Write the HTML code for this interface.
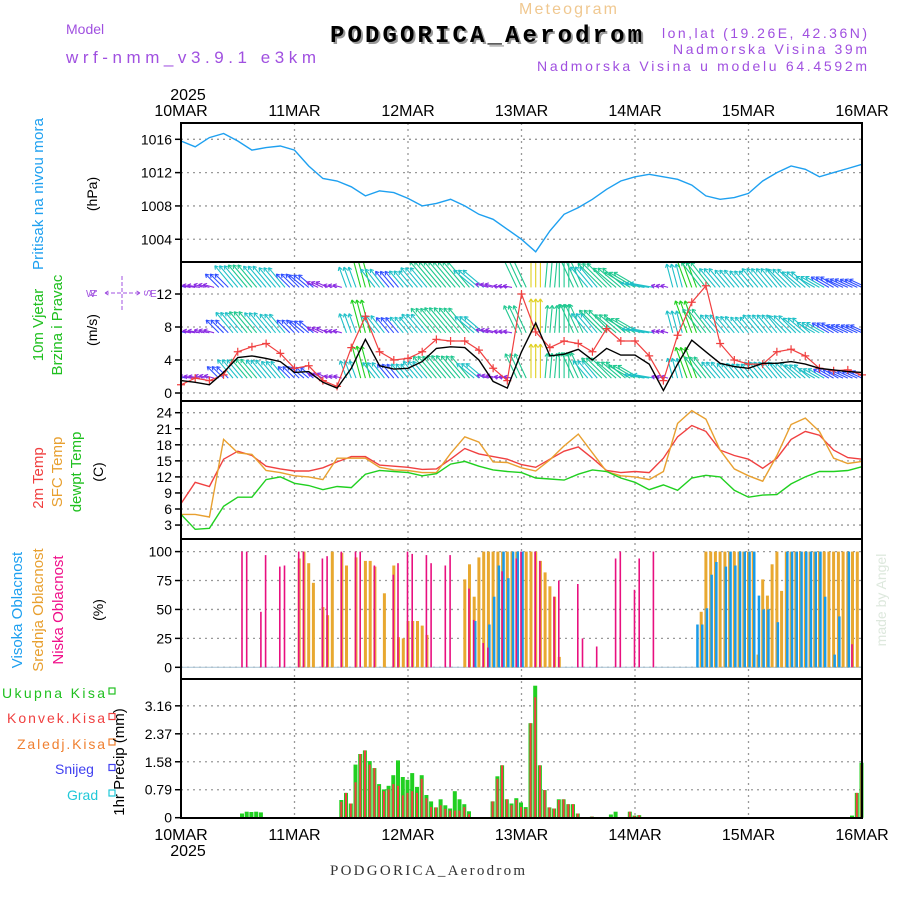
<!DOCTYPE html>
<html><head><meta charset="utf-8">
<style>
html,body{margin:0;padding:0;background:#fff;}
svg{display:block;font-family:"Liberation Sans","DejaVu Sans",sans-serif;}
</style></head>
<body>
<svg id="chart" width="900" height="900" viewBox="0 0 900 900" xmlns="http://www.w3.org/2000/svg">
<rect width="900" height="900" fill="#fff"/>
<g>
<text x="568" y="14" font-size="16" fill="#f0c890" text-anchor="middle" textLength="98">Meteogram</text>
<text x="332" y="44" font-family="Liberation Mono, monospace" font-weight="bold" font-size="24" fill="#999" textLength="312">PODGORICA_Aerodrom</text>
<text x="330" y="42" font-family="Liberation Mono, monospace" font-weight="bold" font-size="24" fill="#000" textLength="312">PODGORICA_Aerodrom</text>
<text x="66" y="34" font-size="14" fill="#a050e0">Model</text>
<text x="66" y="63" font-size="17" fill="#a050e0" textLength="250">wrf-nmm_v3.9.1 e3km</text>
<text x="867" y="38" font-size="14" fill="#a050e0" text-anchor="end" textLength="205">lon,lat (19.26E, 42.36N)</text>
<text x="867" y="54" font-size="14" fill="#a050e0" text-anchor="end" textLength="194">Nadmorska Visina 39m</text>
<text x="867" y="71" font-size="14" fill="#a050e0" text-anchor="end" textLength="330">Nadmorska Visina u modelu 64.4592m</text>
</g>
<g id="grid"></g>
<g id="marks"></g>
<g id="frame"></g>
<g id="labels"></g>
<g>
<text transform="translate(43,194) rotate(-90)" font-size="15" fill="#1ea0f0" text-anchor="middle" textLength="152">Pritisak na nivou mora</text>
<text transform="translate(97,194) rotate(-90)" font-size="14" fill="#000" text-anchor="middle">(hPa)</text>
<text transform="translate(43,325) rotate(-90)" font-size="15" fill="#20c020" text-anchor="middle">10m Vjetar</text>
<text transform="translate(62,325) rotate(-90)" font-size="15" fill="#20c020" text-anchor="middle">Brzina i Pravac</text>
<text transform="translate(97,330) rotate(-90)" font-size="14" fill="#000" text-anchor="middle">(m/s)</text>
<g fill="#a050e0" font-size="10" stroke="none">
<text x="122" y="268" text-anchor="middle" transform="rotate(-90 122 293)">N</text>
<text x="86" y="297">W</text><text x="150" y="297">E</text>
<text x="122" y="322" text-anchor="middle" transform="rotate(-90 122 293)">S</text>
<path d="M105,293 H140 M122,276 V310 M105,293 l5,-3 M105,293 l5,3 M140,293 l-5,-3 M140,293 l-5,3" stroke="#a050e0" stroke-width="1" stroke-dasharray="4,2" fill="none"/>
</g>
<text transform="translate(43,478) rotate(-90)" font-size="15" fill="#f04040" text-anchor="middle">2m Temp</text>
<text transform="translate(62,472) rotate(-90)" font-size="15" fill="#e8a030" text-anchor="middle">SFC Temp</text>
<text transform="translate(81,472) rotate(-90)" font-size="15" fill="#20c020" text-anchor="middle">dewpt Temp</text>
<text transform="translate(103,472) rotate(-90)" font-size="14" fill="#000" text-anchor="middle">(C)</text>
<text transform="translate(22,610) rotate(-90)" font-size="15" fill="#1ea0f0" text-anchor="middle">Visoka Oblacnost</text>
<text transform="translate(43,610) rotate(-90)" font-size="15" fill="#e8a030" text-anchor="middle">Srednja Oblacnost</text>
<text transform="translate(63,610) rotate(-90)" font-size="15" fill="#f0108a" text-anchor="middle">Niska Oblacnost</text>
<text transform="translate(103,610) rotate(-90)" font-size="14" fill="#000" text-anchor="middle">(%)</text>
<text transform="translate(124,762) rotate(-90)" font-size="15" fill="#000" text-anchor="middle">1hr Precip (mm)</text>
<text transform="translate(886,600) rotate(-90)" font-size="14" fill="#dde8dd" text-anchor="middle">made by Angel</text>
<text x="330" y="875" font-family="Liberation Serif, serif" font-size="15" fill="#333" textLength="195">PODGORICA_Aerodrom</text>
</g>
<g font-size="14">
<text x="2" y="698" fill="#20c020" textLength="103">Ukupna Kisa</text>
<text x="7" y="723" fill="#f04040" textLength="98">Konvek.Kisa</text>
<text x="17" y="749" fill="#f08030" textLength="88">Zaledj.Kisa</text>
<text x="55" y="774" fill="#4040f0">Snijeg</text>
<text x="67" y="800" fill="#20c8d8">Grad</text>
</g>
</svg>
<script>
const pressure=[1015.8,1015.1,1016.2,1016.7,1015.8,1014.7,1015.0,1015.2,1014.7,1012.8,1011.3,1011.0,1010.3,1009.2,1009.8,1009.6,1008.9,1008.0,1008.3,1008.8,1008.0,1007.0,1006.4,1005.2,1004.0,1002.5,1005.0,1007.0,1007.8,1008.8,1010.0,1011.0,1011.5,1011.8,1011.5,1011.2,1010.5,1009.2,1008.8,1009.0,1009.5,1011.0,1012.0,1012.8,1012.4,1011.5,1012.0,1012.5,1013.0];
const temp2m=[7,11.0,10.2,15.3,16.8,16.0,14.0,13.5,13.1,13.1,13.7,14.8,15.8,15.8,14.2,14.0,13.8,13.4,13.5,15.3,17.3,16.3,15.8,15.3,14.3,13.8,15.3,16.8,17.6,15.5,13.2,12.8,13.0,12.8,15.5,19.5,21.6,20.5,17.0,16.0,15.3,13.6,15.5,19.0,20.5,19.8,17.0,15.6,15.3];
const tempSfc=[5,5.0,4.5,19.0,16.5,16.2,13.2,12.8,12.2,12.0,11.5,15.5,15.5,15.5,13.8,13.3,13.2,12.8,12.8,16.4,19.5,18.5,14.8,14.7,13.7,13.1,15.2,17.8,20.0,16.5,13.0,12.2,12.0,11.5,13.0,22.0,24.4,22.8,17.0,13.5,12.2,11.2,16.0,21.8,23.0,20.5,15.5,14.5,14.9];
const tempDew=[5,2.2,2.4,6.5,8.2,8.2,11.5,12.0,10.8,10.4,9.6,10.2,10.0,12.5,13.2,13.0,12.8,12.2,12.6,14.4,14.9,14.0,13.3,13.0,12.8,11.8,11.6,11.4,12.5,13.3,13.0,11.8,11.0,9.6,10.5,9.5,11.8,12.3,12.0,9.5,8.2,8.6,8.7,10.7,12.0,13.0,13.0,13.2,13.9];
const windSpeed=[1.5,1.3,1.0,2.5,4.3,4.5,4.2,3.8,2.5,2.6,1.3,0.6,3.0,6.5,3.3,2.9,3.0,3.8,5.4,5.6,5.5,4.0,1.4,0.6,5.0,8.5,4.5,4.7,5.3,4.0,5.4,4.6,4.6,3.5,0.3,3.5,6.4,5.0,3.6,3.2,3.0,3.6,3.6,3.8,3.5,3.0,2.8,2.6,2.5];
const windGust=[1.0,1.8,1.5,2.2,5.0,5.6,6.0,4.8,3.0,3.3,1.5,0.8,5.5,9.3,5.0,4.0,4.2,5.0,6.5,6.3,6.3,5.2,3.0,1.5,12.0,7.4,5.5,6.3,6.0,5.0,7.8,6.3,6.3,4.5,1.5,7.0,11.0,13.0,6.0,4.0,3.5,3.5,5.0,5.3,4.5,3.0,2.7,2.8,2.2];
const windDir=[-75,-80,-75,-45,-40,-40,-40,-40,-45,-50,-65,-75,-20,-15,-38,-40,-40,-40,-40,-40,-40,-50,-75,-80,-25,0,5,0,-25,-40,-45,-50,-60,-80,-75,-15,-20,-38,-40,-40,-40,-40,-40,-45,-50,-60,-60,-65,-65];
const lowHours=[13,14,17,18,21,22,25,26,30,31,34,37,38,41,45,46,48,49,52,53,56,57,61,62,64,65,68,71,72,75,76,79,80,84,85,88,92,93,96,97,100,142];
const lowVals=[100,100,48,97,87,88,100,100,94,96,100,100,100,88,80,90,100,98,97,90,88,97,68,41,21,17,83,94,100,100,92,61,75,72,25,18,94,100,67,94,100,20];
const midHours=[25,26,27,28,30,31,32,34,35,37,39,40,41,43,45,46,47,48,49,50,51,52,60,61,62,63,64,65,66,67,68,69,70,71,73,74,75,76,77,78,79,80,110,111,112,113,114,115,116,117,118,119,120,121,122,123,124,125,126,127,128,129,130,131,132,133,134,135,136,137,138,139,140,141,142,143];
const midVals=[94,100,90,73,52,45,100,99,88,95,92,92,87,64,88,26,25,40,40,40,36,28,76,89,61,95,100,100,100,100,100,100,100,100,100,100,100,92,82,70,61,9,48,100,100,100,100,100,100,100,100,100,100,100,11,76,62,89,100,66,100,100,100,100,100,100,100,100,100,100,100,100,100,100,100,100];
const highHours=[62,65,66,67,68,69,70,71,72,109,110,111,112,113,115,116,117,118,119,120,121,122,123,124,126,128,129,130,131,132,133,134,135,136,138,139,141];
const highVals=[40,37,61,88,100,77,100,100,100,37,37,51,80,91,87,100,88,100,100,100,100,62,50,50,39,100,100,100,100,100,100,100,100,61,11,44,100];
const precipHours=[13,14,15,16,17,34,35,36,37,38,39,40,41,42,43,44,45,46,47,48,49,50,51,52,53,54,55,56,57,58,59,60,61,63,66,67,68,69,70,71,72,73,74,75,76,77,78,79,80,81,82,83,84,87,91,92,95,96,97,142,143,144];
const precipTotal=[0.12,0.17,0.16,0.17,0.15,0.5,0.7,0.4,1.5,1.8,1.9,1.6,1.4,0.95,0.8,0.9,1.2,1.62,1.15,1.07,1.26,0.87,1.2,0.64,0.46,0.29,0.52,0.35,0.26,0.75,0.52,0.38,0.18,0.02,0.46,1.17,1.48,0.52,0.4,0.55,0.43,0.3,2.67,3.73,1.48,0.78,0.29,0.26,0.52,0.52,0.38,0.38,0.12,0.03,0.09,0.17,0.17,0.06,0.07,0.06,0.7,1.55];
const precipConv=[0,0,0,0,0,0.45,0.7,0.4,1.0,1.8,1.9,1.5,1.4,0.9,0.75,0.8,0.95,0.9,0.63,0.7,0.75,0.7,1.1,0.55,0.3,0.29,0.35,0.25,0.2,0.2,0.2,0.3,0.1,0.02,0.46,1.1,1.48,0.52,0.35,0.5,0.3,0.25,2.67,3.4,1.48,0.78,0.29,0.26,0.5,0.52,0.38,0.38,0.12,0.03,0,0,0.17,0.05,0.07,0,0.7,1.5];
const dayLabels=["10MAR","11MAR","12MAR","13MAR","14MAR","15MAR","16MAR"];
const pressureTicks=[1016,1012,1008,1004];
const windTicks=[12,8,4,0];
const tempTicks=[24,21,18,15,12,9,6,3];
const cloudTicks=[100,75,50,25,0];
const precipTicks=[3.16,2.37,1.58,0.79,0];

const NS="http://www.w3.org/2000/svg";
const X0=181,X1=862,HOURS=144,STEP=3;
const X=h=>X0+h*(X1-X0)/HOURS;
const yP=v=>139.3+(1016-v)*8.33;
const yW=v=>393-v*8.25;
const yT=v=>412.7+(24-v)*5.35;
const yC=v=>667.3-v*1.157;
const yR=v=>817.7-v*35.4;
const panels=[{t:123,b:262},{t:262,b:401},{t:401,b:539},{t:539,b:679},{t:679,b:818}];
function mk(tag,attrs,parent){const e=document.createElementNS(NS,tag);for(const k in attrs)e.setAttribute(k,attrs[k]);parent.appendChild(e);return e;}
const grid=document.getElementById('grid'),marks=document.getElementById('marks'),frame=document.getElementById('frame'),labels=document.getElementById('labels');

dayLabels.forEach((d,i)=>{
  const x=X(i*24);
  const g=mk('line',{x1:x,x2:x,y1:123,y2:818,stroke:'#999','stroke-dasharray':'2,4','stroke-width':1.3},grid);
  
  
  const t1=mk('text',{x:x,y:116,'font-size':16,'text-anchor':'middle',fill:'#000'},labels);t1.textContent=d;
  
  
  const t2=mk('text',{x:x,y:840,'font-size':16,'text-anchor':'middle',fill:'#000'},labels);t2.textContent=d;
  
  
});
[[100,'top-year-label'],[856,'bottom-year-label']].forEach(([y,n])=>{
  const t=mk('text',{x:X0+7,y:y,'font-size':16,'text-anchor':'middle',fill:'#000'},labels);t.textContent='2025';
  
  
});
function yTicks(ticks,f,name){
  ticks.forEach(v=>{
    const y=f(v);
    const l=mk('line',{x1:X0,x2:X1,y1:y,y2:y,stroke:'#999','stroke-dasharray':'2,4','stroke-width':1.3},grid);
    
    
    mk('line',{x1:X0-6,x2:X0,y1:y,y2:y,stroke:'#000','stroke-width':1.5},frame);
    const t=mk('text',{x:X0-9,y:y+5,'font-size':14,'text-anchor':'end',fill:'#000'},labels);t.textContent=String(v);
    
    
  });
}
yTicks(pressureTicks,yP,'pressure');
yTicks(windTicks,yW,'wind');
yTicks(tempTicks,yT,'temp');
yTicks(cloudTicks,yC,'cloud');
yTicks(precipTicks,yR,'precip');

const defs=mk('defs',{},document.getElementById('chart'));
panels.forEach((p,i)=>{const c=mk('clipPath',{id:'clip'+i},defs);mk('rect',{x:X0,y:p.t,width:X1-X0+1,height:p.b-p.t},c);});

function line(arr,f,color,name,clip,w){
  const pts=arr.map((v,i)=>X(i*STEP).toFixed(1)+','+f(v).toFixed(1)).join(' ');
  const e=mk('polyline',{points:pts,fill:'none',stroke:color,'stroke-width':w||1.4,'clip-path':'url(#clip'+clip+')'},marks);
  
  
  return e;
}
line(pressure,yP,'#1ea0f0','pressure-line',0);

function windColor(s){
  if(s<1.5)return '#8a2be2';if(s<3)return '#3050ff';if(s<4.5)return '#20c0c8';if(s<6)return '#20c890';
  if(s<7.5)return '#20d020';if(s<9)return '#e0d020';if(s<11)return '#f0a020';return '#ff4040';}
const rowBases=[12.8,7.3,1.8],rowScale=[1.3,1.2,1.05];
const wg=mk('g',{'clip-path':'url(#clip1)'},marks);


rowBases.forEach((base,r)=>{
  windSpeed.forEach((s,i)=>{
    const d=windDir[i]*Math.PI/180,L=Math.min(6+s*4*rowScale[r],34);
    [-1,0,1].forEach(o=>{
      const x=X(i*STEP+o),y=yW(base);
      const tx=x+L*Math.sin(d),ty=y-L*Math.cos(d);
      const a1=d+2.6,a2=d-2.6;
      const p=mk('path',{d:`M${x.toFixed(1)},${y.toFixed(1)} L${tx.toFixed(1)},${ty.toFixed(1)} M${tx.toFixed(1)},${ty.toFixed(1)} l${(4*Math.sin(a1)).toFixed(1)},${(-4*Math.cos(a1)).toFixed(1)} M${tx.toFixed(1)},${ty.toFixed(1)} l${(4*Math.sin(a2)).toFixed(1)},${(-4*Math.cos(a2)).toFixed(1)}`,stroke:windColor(s),'stroke-width':1.1,fill:'none'},wg);
      
      
    });
  });
});
line(windGust,yW,'#f04040','wind-gust-line',1,1.2);
windGust.forEach((v,i)=>{
  const x=X(i*STEP),y=yW(v);
  if(y<262||y>401)return;
  const c=mk('path',{d:`M${x-4},${y} h8 M${x},${y-4} v8`,stroke:'#f04040','stroke-width':1.2},marks);
  
  
});
line(windSpeed,yW,'#000','wind-speed-line',1,1.4);

line(temp2m,yT,'#f04040','temp-2m-line',2);
line(tempSfc,yT,'#e8a030','temp-sfc-line',2);
line(tempDew,yT,'#20d020','temp-dewpt-line',2);

const z=mk('line',{x1:X0,x2:X1,y1:yC(0),y2:yC(0),stroke:'#b0c8d8','stroke-width':1.2},marks);


function bars(hours,vals,f,color,w,off,name){
  hours.forEach((h,i)=>{
    const x=X(h)+off,y=f(vals[i]),y0=f(0);
    const b=mk('rect',{x:(x-w/2).toFixed(1),y:y.toFixed(1),width:w,height:Math.max(0,y0-y).toFixed(1),fill:color},marks);
    
    
  });
}
bars(midHours,midVals,yC,'#e8a830',3,0,'mid-cloud-bar');
bars(highHours,highVals,yC,'#1a9be8',2.5,1,'high-cloud-bar');
bars(lowHours,lowVals,yC,'#e8107f',1.6,-0.5,'low-cloud-bar');

bars(precipHours,precipTotal,yR,'#20d020',4,-0.5,'precip-total-bar');
bars(precipHours,precipConv,yR,'#f04040',2,-0.5,'precip-conv-bar');

panels.forEach((p,i)=>{
  const r=mk('rect',{x:X0,y:p.t,width:X1-X0,height:p.b-p.t,fill:'none',stroke:'#000','stroke-width':2},frame);
  
  
});
const lc=['#20c020','#f04040','#f08030','#4040f0','#20c8d8'];
lc.forEach((c,i)=>{
  const s=mk('rect',{x:109,y:688+i*25.5,width:6,height:6,fill:'none',stroke:c,'stroke-width':1.2},labels);
  
  
});
</script>
</body></html>
